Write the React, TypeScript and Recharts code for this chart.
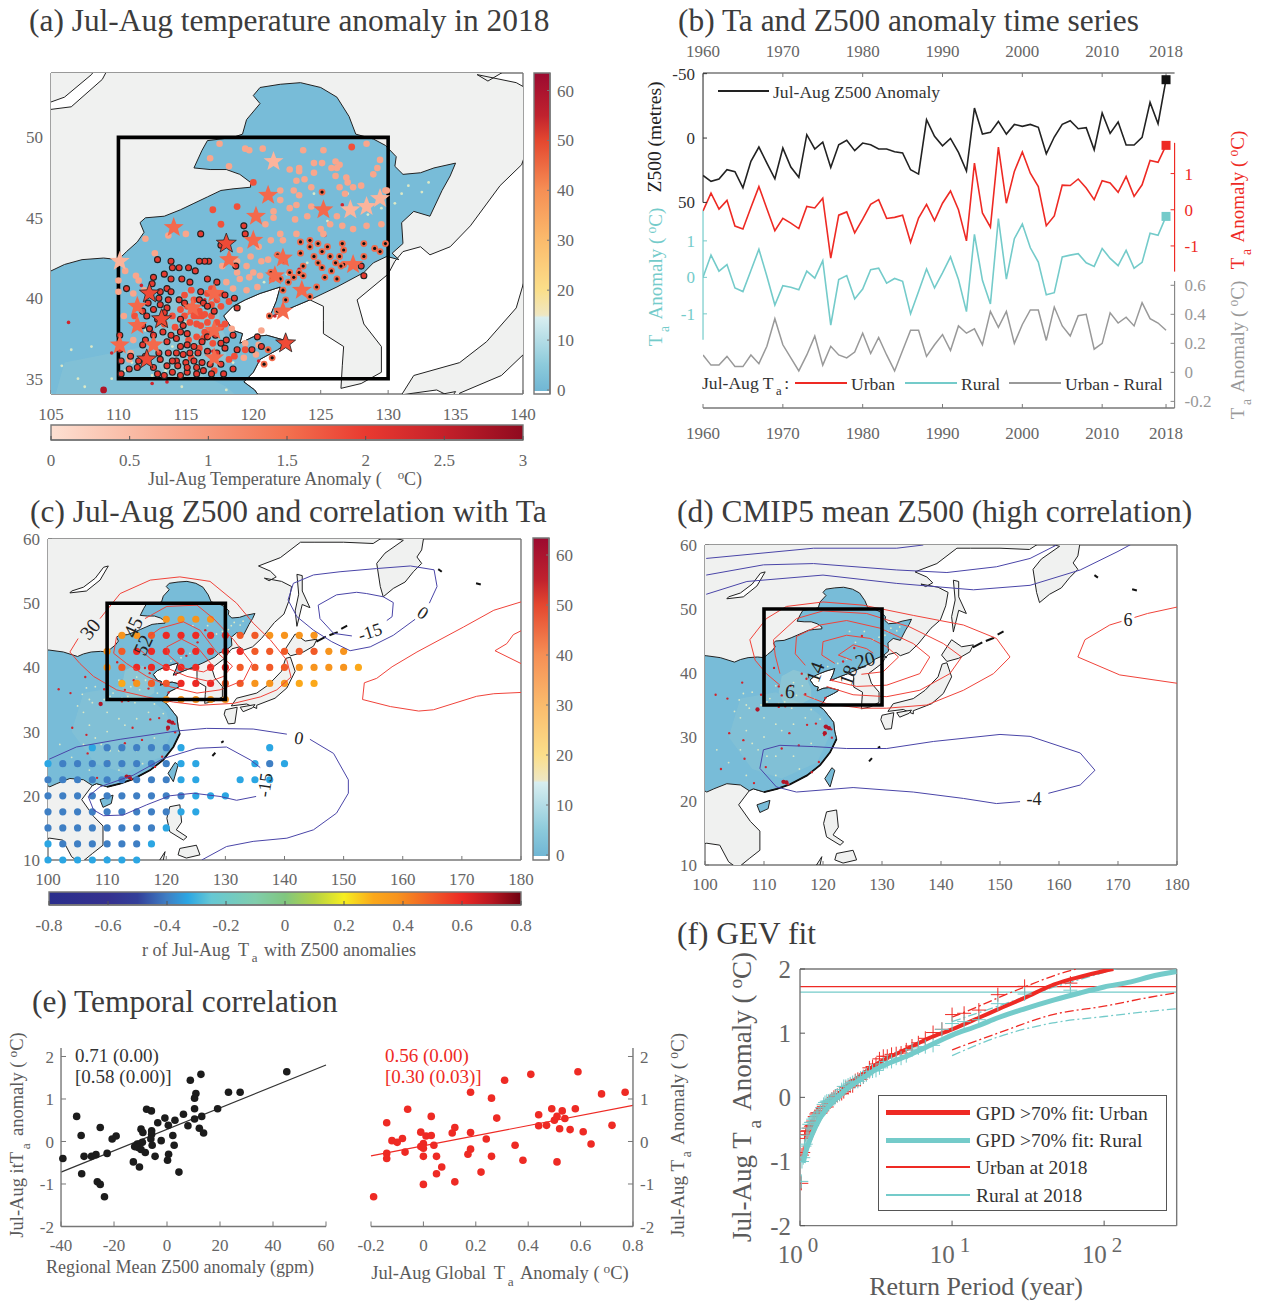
import React from "react";
import {
  ComposedChart,
  Line,
  ReferenceArea,
  ReferenceLine,
  Scatter,
  ScatterChart,
  XAxis,
  YAxis,
} from "recharts";

const serif = '"Liberation Serif", "Times New Roman", serif';
const RED = "#ee2a24";
const TEAL = "#74cbca";
const GRAY = "#999999";
const BLUE_LINE = "#4a45a8";
const LAND = "#f0f1f0";
const CHINA = "#78bcd8";
const THIN = 0.01;

// ---- time series (panel b)
const years = [
  1960, 1961, 1962, 1963, 1964, 1965, 1966, 1967, 1968, 1969, 1970, 1971, 1972, 1973, 1974, 1975, 1976, 1977, 1978,
  1979, 1980, 1981, 1982, 1983, 1984, 1985, 1986, 1987, 1988, 1989, 1990, 1991, 1992, 1993, 1994, 1995, 1996, 1997,
  1998, 1999, 2000, 2001, 2002, 2003, 2004, 2005, 2006, 2007, 2008, 2009, 2010, 2011, 2012, 2013, 2014, 2015, 2016,
  2017, 2018,
];
const z500 = [
  29, 33.6, 31.8, 24.6, 26.1, 38.6, 18.1, 7, 19.4, 31.6, 7.8, 22.5, 30.5, -2.6, 8.5, 3.1, 22.8, 5.2, 1.8, 9.8, 3.9,
  5.2, 8.5, 8.5, 10.6, 11.6, 24.6, 28, -14.2, -1.3, 6, 0.3, 11.1, 25.6, -23.3, -3.1, -4.4, -12.9, -3.1, -10.6, -9.1,
  -10.6, -8.3, 12.2, -0.8, -10.6, -13.5, -7.2, -8, 9.1, -19.4, -3.6, -12.4, 5.4, 5.4, -0.5, -27.7, -11.1, -45.3,
];
const urbanTa = [
  -0.03, 0.46, 0.02, 0.26, -0.45, -0.53, 0.06, 0.64, 0.03, -0.58, -0.24, -0.37, -0.52, 0.09, 0.05, 0.32, -1.34,
  -0.15, -0.06, -0.64, -0.26, 0.15, 0.28, -0.24, -0.21, -0.15, -0.9, -0.23, 0.15, -0.3, 0.18, 0.52, 0, -0.86, 1.29,
  -0.09, -0.48, 1.73, 0.18, 1.06, 1.6, 1.01, 0.64, -0.44, -0.17, 0.68, 0.67, 0.85, 0.6, 0.28, 0.8, 0.74, 0.48, 0.92,
  0.37, 0.69, 1.36, 1.31, 1.78,
];
const ruralTa = [
  0, 0.61, 0.17, 0.35, -0.29, -0.39, 0.19, 0.77, 0.03, -0.76, -0.23, -0.27, -0.34, 0.17, -0.02, 0.46, -1.31, -0.06,
  0.05, -0.59, -0.32, 0.21, 0.25, -0.16, -0.03, -0.11, -1, -0.39, 0.23, -0.29, 0.12, 0.56, -0.06, -0.94, 1.18, -0.08,
  -0.73, 1.61, -0.05, 1.06, 1.46, 0.81, 0.42, -0.48, -0.42, 0.56, 0.61, 0.65, 0.4, 0.3, 0.79, 0.52, 0.32, 0.74, 0.25,
  0.41, 1.21, 1.15, 1.67,
];
const diffTa = [
  0.12, 0.05, 0.05, 0.11, 0.04, 0.04, 0.12, 0.06, 0.18, 0.37, 0.19, 0.1, 0.01, 0.12, 0.25, 0.05, 0.18, 0.12, 0.1,
  0.14, 0.27, 0.13, 0.24, 0.12, 0.01, 0.15, 0.29, 0.29, 0.11, 0.19, 0.26, 0.15, 0.32, 0.27, 0.3, 0.19, 0.42, 0.31,
  0.42, 0.2, 0.33, 0.43, 0.43, 0.22, 0.45, 0.32, 0.25, 0.39, 0.4, 0.16, 0.2, 0.41, 0.34, 0.38, 0.32, 0.48, 0.37, 0.34,
  0.29,
];
const seriesTable = years.map((year, i) => ({ year, z: z500[i], u: urbanTa[i], r: ruralTa[i], d: diffTa[i] }));
const decadeTicks = [1960, 1970, 1980, 1990, 2000, 2010, 2018];

// ---- scatter (panel e)
const z500Scatter = [
  [45.2, 1.64], [12.8, 1.58], [8.8, 1.44], [23.2, 1.16], [27.6, 1.16], [10.9, 1.13], [10.4, 1.02], [19.1, 0.77],
  [10.4, 0.77], [-7.7, 0.76], [-5.9, 0.72], [6.2, 0.64], [-34.1, 0.59], [13.1, 0.59], [-0.8, 0.55], [3, 0.5],
  [10.4, 0.53], [-3.5, 0.44], [7.9, 0.37], [0.5, 0.38], [-25.2, 0.33], [-9.8, 0.29], [12.2, 0.31], [-9.1, 0.21],
  [13.8, 0.2], [-5.8, 0.25], [-5.8, 0.17], [-32.4, 0.14], [-19.2, 0.13], [-20.7, 0.06], [2.2, 0.14], [-6.1, 0.06],
  [-2.2, 0.02], [-9.3, -0.02], [-11.2, -0.06], [-12.2, -0.12], [-10.9, -0.14], [-5.6, -0.09], [2.7, -0.09],
  [-9.8, -0.19], [-8.2, -0.26], [-22.6, -0.28], [-26.8, -0.31], [-28.5, -0.35], [-31.3, -0.35], [-39.3, -0.4],
  [-4.5, -0.35], [0.6, -0.3], [0.2, -0.44], [-12.7, -0.48], [-10.4, -0.6], [4.5, -0.72], [-32.2, -0.76],
  [-26.3, -0.95], [-25.2, -1.01], [-23.6, -1.3],
];
const globalScatter = [
  [0.59, 1.64], [0.41, 1.58], [0.31, 1.44], [0.18, 1.16], [0.77, 1.16], [0.68, 1.12], [0.26, 1.02], [-0.06, 0.76],
  [0.49, 0.77], [0.58, 0.77], [0.53, 0.72], [0.44, 0.63], [0.03, 0.59], [0.51, 0.59], [0.54, 0.54], [0.28, 0.55],
  [0.5, 0.5], [-0.14, 0.44], [0.72, 0.38], [0.44, 0.37], [0.47, 0.38], [0.12, 0.33], [0.52, 0.3], [0.56, 0.28],
  [0.61, 0.23], [0.11, 0.2], [0.18, 0.21], [-0.01, 0.22], [0.01, 0.13], [0.03, 0.14], [-0.08, 0.07], [0.24, 0.06],
  [-0.12, 0.02], [-0.1, -0.02], [0, -0.05], [0.64, -0.06], [0.04, -0.09], [-0.01, -0.12], [0.35, -0.09], [0, -0.16],
  [0.18, -0.18], [-0.07, -0.25], [-0.14, -0.28], [0.17, -0.3], [0, -0.35], [0.05, -0.35], [0.26, -0.35], [-0.14, -0.4],
  [0.38, -0.44], [0.51, -0.48], [0.07, -0.6], [0.22, -0.72], [0.05, -0.76], [0.12, -0.95], [0, -1.01], [-0.19, -1.3],
];

// ---- GEV fit (panel f)
const returnPeriods = [
  60, 30, 20, 15, 12, 10, 8.57, 7.5, 6.67, 6, 5.45, 5, 4.62, 4.29, 4, 3.75, 3.53, 3.33, 3.16, 3, 2.86, 2.73, 2.61, 2.5,
  2.4, 2.31, 2.22, 2.14, 2.07, 2, 1.94, 1.88, 1.82, 1.76, 1.71, 1.67, 1.62, 1.58, 1.54, 1.5, 1.46, 1.43, 1.4, 1.36,
  1.33, 1.3, 1.28, 1.25, 1.22, 1.2, 1.18, 1.15, 1.13, 1.11, 1.09, 1.07, 1.05, 1.03, 1.02,
];
const urbanSorted = [
  1.78, 1.73, 1.6, 1.36, 1.31, 1.29, 1.06, 1.01, 0.92, 0.85, 0.8, 0.74, 0.69, 0.68, 0.67, 0.64, 0.64, 0.6, 0.52, 0.48,
  0.46, 0.37, 0.32, 0.28, 0.28, 0.26, 0.18, 0.18, 0.15, 0.15, 0.09, 0.06, 0.05, 0.03, 0.02, 0, -0.03, -0.06, -0.09,
  -0.15, -0.15, -0.17, -0.21, -0.23, -0.24, -0.24, -0.26, -0.3, -0.37, -0.44, -0.45, -0.48, -0.52, -0.53, -0.58, -0.64,
  -0.86, -0.9, -1.34,
];
const ruralSorted = [
  1.67, 1.61, 1.46, 1.21, 1.18, 1.15, 1.06, 0.81, 0.79, 0.77, 0.74, 0.65, 0.61, 0.61, 0.56, 0.56, 0.52, 0.46, 0.42,
  0.41, 0.4, 0.35, 0.32, 0.3, 0.25, 0.25, 0.23, 0.21, 0.19, 0.17, 0.17, 0.12, 0.05, 0.03, 0, -0.02, -0.03, -0.05,
  -0.06, -0.06, -0.08, -0.11, -0.16, -0.23, -0.27, -0.29, -0.29, -0.32, -0.34, -0.39, -0.39, -0.42, -0.48, -0.59,
  -0.73, -0.76, -0.94, -1, -1.31,
];
const urbanFit = [
  [1.05, -1], [1.1, -0.82], [1.2, -0.58], [1.35, -0.33], [1.6, -0.08], [2, 0.16], [2.5, 0.34], [3.3, 0.54],
  [5, 0.75], [7, 0.92], [10, 1.06], [15, 1.24], [20, 1.37], [30, 1.55], [47, 1.76], [70, 1.88], [100, 1.97], [115, 2],
];
const ruralFit = [
  [1.05, -1.02], [1.1, -0.82], [1.2, -0.58], [1.35, -0.33], [1.6, -0.1], [2, 0.12], [2.5, 0.28], [3.3, 0.46],
  [5, 0.64], [7, 0.8], [10, 0.97], [15, 1.12], [20, 1.24], [30, 1.38], [47, 1.52], [70, 1.63], [100, 1.72], [150, 1.8],
  [200, 1.88], [300, 1.96],
];
const urbanUpper = [[10, 1.25], [15, 1.42], [20, 1.55], [30, 1.72], [50, 1.92], [70, 2.02]];
const urbanLower = [[10, 0.74], [20, 1], [46, 1.29], [100, 1.42], [200, 1.56], [300, 1.63]];
const ruralUpper = [[10, 1.18], [20, 1.42], [47, 1.72], [80, 1.88], [125, 2.02]];
const ruralLower = [[10, 0.65], [20, 0.94], [46, 1.16], [100, 1.26], [200, 1.34], [300, 1.38]];

// ---- geography, [lon, lat]
const chinaNorth = [
  [95, 43], [100.2, 42.7], [102.6, 42.4], [105, 41.7], [106, 42.1], [107.3, 42.4], [108.9, 42.5], [110, 42.4],
  [110.6, 42.9], [111.4, 43.5], [111.9, 44.1], [111.6, 44.7], [112, 45], [113.4, 45.1], [114.6, 45.5], [115.6, 45.9],
  [116.6, 46.3], [117.6, 46.7], [118.5, 46.8], [119.8, 46.9], [119.8, 47.2], [119, 47.7], [118, 48], [116.8, 48],
  [115.6, 48.1], [116.2, 49.2], [116.6, 49.8], [117.6, 49.9], [118.5, 50], [119.2, 50.2], [119.5, 51.1], [120.5, 52.1],
  [120, 52.6], [120.5, 53.1], [122, 53.3], [123.5, 53.4], [125, 53.1], [126.2, 52.5], [127.1, 51.3], [127.6, 50.2],
  [128.9, 49.9], [129.8, 49.5], [130.6, 48.8], [130.5, 48.2], [131.1, 47.7], [132.4, 47.8], [133.4, 48.1], [135, 48.4],
  [134.6, 47.6], [134, 46.7], [133.1, 45.1], [131.9, 45.4], [131, 44.7], [131.1, 43.4], [130.3, 42.8], [130.8, 42.4],
  [129.9, 42.6], [128.9, 42.2], [128.2, 41.6], [126.2, 40.7],
];
const chinaCoast = [
  [124.2, 39.9], [122.5, 39.3], [121.2, 38.8], [121.7, 39.8], [122, 40.7], [120.5, 40.3], [119.4, 39.9], [118.5, 39.5],
  [117.8, 38.9], [118.5, 38], [119.2, 37.8], [119, 37.2], [120, 37.6], [121, 37.7], [122.7, 37.3], [121.8, 36.8],
  [120.5, 36.2], [120, 35.4], [119.3, 34.8], [120.1, 34.3], [121.8, 32.3], [122, 30.8], [122.3, 29.7], [121.2, 27.6],
  [119.5, 25.6], [117.3, 24], [114.4, 22.6], [112.2, 21.9], [110, 21.4], [108.2, 21.9], [107.5, 21.6],
];
const southCoastBold = [[122.3, 29.7], [121.2, 27.6], [119.5, 25.6], [117.3, 24], [114.4, 22.6], [112.2, 21.9], [110, 21.4]];
const chinaSouth = [[106, 22.5], [103.7, 22.7], [101.5, 21.9], [100.3, 21.4], [97, 23], [95, 25]];
const russiaCoast = [
  [180, 62], [164, 62], [163.5, 60], [163.2, 58.3], [162.4, 57.2], [163.2, 56.2], [161.8, 54.9], [160.4, 53.3],
  [158.4, 52.3], [156.7, 51], [156.2, 52.6], [155.6, 56.2], [157, 57.8], [160.1, 59.8], [157, 60.5], [155, 59.3],
  [150, 59.5], [145, 59.5], [142.7, 59.5], [139.3, 57.1], [135.6, 55.8], [137.6, 55], [138.6, 54.1], [137.4, 53.5],
  [136.6, 53.9], [139.5, 53.4], [141.2, 52.6], [140.8, 50.5], [139.9, 48.3], [138.3, 47], [136.1, 44.5], [134.6, 43.2],
  [133.1, 42.7], [132.4, 43.2], [131.1, 42.9], [130.5, 42.3],
];
const koreaCoast = [
  [130, 41.5], [127.7, 39.9], [128.2, 38.4], [129.5, 37], [129.5, 35.4], [128, 34.7], [126.5, 34.4], [126.6, 35.8],
  [126.7, 37], [125.2, 37.8], [125.2, 38.6], [125.2, 39.5],
];
const indochina = [
  [105.7, 19.4], [107.7, 16.8], [109.3, 15.3], [109.3, 12.3], [107.5, 11], [105.5, 9.5], [104, 10.5], [102.5, 13.1],
  [100.3, 13.4], [99.5, 13.3], [90, 13], [90, 62],
];
const asiaLand = [...russiaCoast, ...koreaCoast, ...chinaCoast, ...indochina];
const chinaLand = [...chinaNorth, ...chinaCoast, ...chinaSouth];
const islandShapes = [
  [[140.1, 42.8], [141.8, 45.2], [143.5, 44.1], [145.5, 44.4], [144.9, 43.3], [143, 42.3], [141, 41.8]],
  [[141, 41.6], [141.8, 39.4], [140.4, 36.8], [138.4, 35.2], [135.3, 34.1], [135.3, 33.6], [133.6, 34.3], [131, 34],
    [131.9, 35.2], [135.3, 36], [137.3, 37.3], [139.5, 39.4], [140.2, 41.4]],
  [[130, 33.4], [132, 33.8], [131.6, 31.3], [130.5, 31.2], [129.8, 32.7]],
  [[132.5, 33.8], [135, 34.2], [134.6, 33.7], [133, 33.1]],
  [[142.1, 54.5], [143, 54.3], [143, 51.9], [144.3, 49.3], [143, 49.8], [142.1, 46.4], [141.8, 48.8], [142.4, 51.4]],
  [[121.5, 25.2], [122, 24.8], [121.2, 22.2], [120.3, 23.5]],
  [[108.8, 19.4], [111, 20.1], [110.7, 18.8], [109.3, 18.2]],
  [[120.6, 18.3], [122.3, 18.6], [122.6, 15.9], [121.7, 14.7], [123.5, 13.6], [122.9, 13.1], [120.6, 14.4], [120.1, 16.5]],
  [[122.3, 11.8], [125.1, 12.3], [125.7, 10.8], [123.4, 10.3], [122, 10.8]],
  [[118.9, 10], [119.8, 11.3], [119.5, 10]],
];
const baikal = [[103.7, 51.6], [106.5, 51.9], [108.8, 53.6], [110.2, 55.8], [109.4, 55.6], [108, 53.9], [106, 52.5], [104, 51.9]];
const tinyIslands = [
  [[145.4, 44], [147, 44.8]], [[147.6, 45], [149, 45.5]], [[149.6, 46], [150.6, 46.5]],
  [[127.8, 26.2], [128.3, 26.7]], [[129.3, 28.3], [129.7, 28.5]], [[166, 55.3], [166.6, 54.9]], [[172.4, 53.1], [173.2, 52.9]],
];
const regionCorners = [[110, 35], [130, 35], [130, 50], [110, 50]];

// city hot spots and pale speckle on the China raster
const hotSpots = [
  [116.4, 39.9], [117.2, 39.1], [114.5, 38], [113, 36.5], [112.5, 37.9], [108.9, 34.3], [104.1, 30.6], [106.5, 29.5],
  [114.3, 30.6], [113, 28.2], [115.9, 28.7], [117.3, 31.9], [118.8, 32.1], [120.3, 31.6], [120.9, 31.4], [121.4, 31.2],
  [120.2, 30.3], [121.5, 29.9], [119.3, 26.1], [118.1, 24.5], [113.3, 23.1], [113.7, 22.8], [114.1, 22.6], [110.3, 25.3],
  [108.3, 22.8], [106.7, 26.6], [102.7, 25], [113.6, 34.8], [117, 36.7], [120.4, 36.1], [123.4, 41.8], [121.6, 38.9],
  [125.3, 43.9], [126.6, 45.8], [111.7, 40.8], [106.3, 38.5], [103.8, 36], [101.8, 36.6], [109.5, 36.6], [112.5, 34.7],
];
const hotBlobs = [[121, 31.4], [120.5, 31.6], [120.3, 30.6], [113.3, 23], [113.8, 22.9], [108.9, 34.3]];
const paleSpecks = [
  [115, 38.5], [114, 37], [115.5, 36.5], [116.5, 38], [113.5, 35.5], [116, 35], [117.5, 35], [118.5, 36], [119, 39.5],
  [120.8, 41], [122.5, 41.5], [124, 42.2], [125.5, 44.8], [127, 46.5], [128.5, 45.2], [131, 46.5], [132.5, 46.6], [130.5, 45.9],
  [133, 47.2], [131.5, 47], [129.5, 45.6], [124.5, 46.5], [112, 38], [110.5, 35.5], [108, 37], [107, 35], [106, 33], [110, 33],
  [112, 32], [115, 32], [117, 33], [113, 31], [110, 30], [107, 31], [105, 34], [109, 28], [112, 27], [115, 27], [118, 29],
  [116, 25], [112, 24], [107, 24], [104, 26], [102, 28], [111, 36], [109.5, 35], [106.5, 36.8], [112.5, 35.2], [114.7, 34.5],
  [107.5, 34.5], [105.8, 35.8], [119.5, 32.8], [118, 34.3], [108, 29], [110.5, 27], [106, 28],
];
const plainPatch = [[113, 39.5], [115, 40.5], [117.5, 39.8], [117.5, 38.5], [118, 37.5], [118, 36], [116, 35], [113.5, 35], [112.5, 37]];
const eastPatch = [[106, 36], [112, 37], [118, 34.5], [120, 33], [121, 30], [119, 26], [113, 23.5], [108, 25], [104, 30]];

// ---- stations (panel a), [lon, lat]
const plainStations = [
  [117.5, 49.6], [116.8, 48.7], [118.2, 48.2], [119.4, 49.3], [119.7, 49.2], [120.7, 49.3], [123.7, 49.2], [125.2, 49.2],
  [128.4, 49.6], [129.4, 48.6], [129.2, 48.1], [128.9, 47.7], [129.9, 46.7], [124.5, 48.4], [125.1, 48.4], [122.7, 48],
  [123.4, 48.1], [123.4, 47.9], [124.5, 47.8], [126.1, 48.5], [126.4, 48.3], [126.2, 48.1], [125.8, 48.1], [126.1, 47.6],
  [126.9, 47.5], [127, 47.2], [127.4, 46.9], [128, 47], [126.4, 46.9], [126.8, 46.5], [123.2, 47.3], [123.8, 47.4],
  [124.3, 46.9], [123, 46.7], [122, 46.7], [123.4, 46.4], [122, 46.1], [123.2, 45.8], [122.7, 45.6], [121.5, 45.4],
  [121.5, 45], [120.9, 44.6], [115, 44], [113.7, 43.9], [112, 43.7], [123.1, 44.9], [124, 45.1], [124.3, 45.7],
  [126.2, 45.1], [125.7, 44.6], [125, 44.3], [125.2, 44], [126.6, 44.5], [127.4, 44.3], [128.4, 44.5], [129.5, 44.6],
  [129.8, 46.7], [122, 44], [123.2, 44], [121.3, 43.6], [122.2, 43.6], [119, 43], [120.4, 43.2], [119.8, 42.6],
  [121.1, 42.4], [120.6, 42.3], [118.8, 42.3], [117.7, 42], [119.5, 42], [120, 41.6], [118.8, 41.6], [118, 41],
  [119, 41.2], [119.7, 41.3], [120.5, 41.4], [118.5, 40.6], [119.5, 40.5], [120.3, 40.7], [112.7, 42.8], [110.5, 41.7],
  [110, 41.1], [110, 40.4], [111.3, 41.4], [111.5, 41.1], [111.9, 40.5], [111.1, 40.3], [110.4, 38.9], [111.1, 37.4],
  [110.9, 36.6], [110.8, 36.2], [118.4, 38.1], [119.4, 37.2], [120.4, 37.1], [120.6, 38], [120.2, 36.5], [119.3, 36.3],
];
const redStations = [
  [127.3, 49.4], [118.8, 45.7], [117, 45.5], [117.6, 44.6], [120, 47.2], [115.6, 38.9], [116.1, 38.3], [116.6, 38.5],
  [115.8, 37.6], [115.3, 38.5], [116.2, 38.9], [116.9, 38.9], [117.3, 38.5], [117.6, 39.5], [117.6, 40.3], [116.6, 40.3],
  [117.3, 39.9], [115.6, 39.9], [115.1, 39.5], [114.6, 39.3], [114, 38.9], [114.2, 38.2], [114.9, 38.9], [115.2, 37.4],
  [115.9, 38.9], [116.4, 37.9], [116.9, 37.9], [117.6, 38.2], [116, 39.2], [116.9, 39.6], [115.5, 39.2], [114.9, 40.2],
  [115.4, 40.5], [116.9, 40.6], [118.2, 39.8], [117.1, 35.5], [118.2, 36.2], [118.6, 36.4], [119.4, 36.8], [116.4, 39],
  [115.8, 38.4], [116.3, 37.5], [117, 37.2], [116, 36.9], [115.4, 36.3], [117.9, 38.4], [113.4, 38.4], [111.2, 38.9],
];
const ringedStations = [
  [116.1, 44], [117.6, 43.3], [119.3, 44.5], [119.4, 44], [116.7, 42.3], [116.4, 42.3], [116, 42.3], [112.9, 42.4],
  [113.9, 42.3], [114, 41.9], [114.5, 41.9], [115.2, 41.9], [115.7, 41.7], [118.7, 42], [112.6, 41.3], [112.5, 40.9],
  [110.6, 40.6], [113.4, 41.5], [113.9, 41.2], [114.7, 41.2], [115.3, 41], [116.6, 41.2], [117.3, 41], [113.6, 40.6],
  [113.9, 40.4], [113.1, 40.4], [114.5, 39.9], [113.7, 39.9], [113.6, 39.4], [113.1, 39.6], [116.1, 40.4], [116, 39.9],
  [116.3, 39.7], [116.6, 39.5], [117.1, 39.2], [117.9, 40.2], [118.6, 40], [118.8, 39.4], [112.6, 39.3], [112.1, 38.9],
  [111.8, 38.3], [112.9, 38.7], [113.4, 39.1], [112.6, 37.7], [110.1, 37.7], [112, 37.4], [111.8, 37.1], [110.9, 36.4],
  [113.6, 37.3], [113, 36.6], [113.7, 36.6], [114.6, 38.7], [114.8, 38.3], [115.1, 37.8], [114.6, 37.9], [110.1, 36.8],
  [110.2, 36.1], [110.2, 35.3], [110.8, 35.6], [111.4, 35.7], [111.5, 36.1], [112, 36.4], [113.1, 36.2], [112.6, 35.7],
  [112.9, 35.3], [113.4, 35.2], [114, 35.4], [114.6, 35.2], [115.1, 35.4], [115.8, 35.3], [116.3, 35.5], [116.9, 35.3],
  [117.8, 35.3], [118.5, 35.6], [114.6, 37], [115.1, 37.1], [115.6, 37], [116.2, 37.3], [116.6, 37.6], [117.2, 37.7],
  [117.6, 37.2], [118, 37.4], [118.5, 37.7], [114.3, 36.6], [114.8, 36.5], [115.3, 36.6], [115.9, 36.6], [116.6, 36.7],
  [117.3, 36.6], [117.9, 36.9], [114.3, 36.1], [115, 36], [115.6, 36.1], [116.2, 36], [116.8, 35.9], [117.6, 35.9],
  [114.4, 35.8], [115.1, 35.7], [115.8, 35.7], [118.8, 36.8], [119.9, 36.8], [120.6, 37], [120.3, 37.6], [128, 42], [128.2, 41.4],
  [113.9, 37.7], [114.3, 37.5], [113.3, 37.9], [112.2, 39.7], [114, 36.1], [113.6, 35.8], [112.3, 38.1], [111.8, 39.2], [113, 40], [114.9, 39.7],
];
const blackCoreStations = [
  [123.5, 43.5], [124.2, 43.6], [124.8, 43.4], [124.2, 43.2], [125.5, 43.2], [126.7, 43], [128.2, 43.4], [129, 43.1],
  [129.8, 43.4], [129.4, 42.9], [128.2, 42.6], [125.1, 42.9], [124.5, 42.6], [123.5, 42.8], [121.8, 42.7], [122.3, 42.3],
  [125.7, 42.6], [126.1, 42.2], [124.8, 42.2], [126.4, 42.6], [126.7, 42.1], [125.8, 41.7], [125.1, 41.9], [123.7, 42],
  [123.4, 41.6], [123, 41.3], [123.7, 41.4], [122.7, 41.6], [121.3, 41.6], [122, 41.2], [122.6, 41], [121.4, 41.2],
  [124.7, 40.7], [125.3, 41.3], [126.2, 41.2], [123.5, 40.5], [124.2, 40.1], [122.2, 40.5], [122.4, 39.9], [121.8, 39.2],
  [121.2, 38.9], [125.1, 46.6], [126.6, 43.4], [126.5, 42], [120.8, 35.9], [121.4, 36.3], [121.1, 36.8],
];
const paleStars = [[121.5, 48.5], [110.1, 42.3], [127.2, 45.5], [128.4, 45.7], [129.4, 46.2]];
const midStars = [
  [121.1, 46.4], [120.2, 45.1], [114.1, 44.4], [120, 43.6], [118.2, 42.4], [125.2, 45.5], [122.2, 42.5], [127.4, 42.1],
  [121.6, 41.4], [123.6, 40.5], [122.2, 39.2], [111.4, 39.5], [111.4, 38.3], [110.1, 37.1], [112.6, 37.1], [117.1, 40.3],
  [115.5, 39.4], [117.1, 38], [117.1, 36.3],
];
const ringedStars = [[118, 43.4], [122.4, 37.2], [112.3, 40.3], [113.2, 38.7], [112.1, 36.2]];

// ---- contours (panels c, d), [lon, lat]
const cRed = [
  [[108.8, 47.6], [112.2, 51.5], [117.3, 53.6], [122.3, 54.1], [127.4, 53.4], [131.9, 50], [134.7, 46.9], [137.6, 44.3],
    [140.4, 41.1], [141.1, 38.5], [138.7, 36.5], [135.9, 35.4], [131.4, 34.4], [125.7, 34.1], [121.2, 34.6], [116.7, 35.4],
    [111.6, 36.5], [107.7, 38.6], [105.4, 40.6], [103.7, 42.4], [105.1, 44.5]],
  [[116.4, 47.6], [120.1, 49.5], [125.2, 49.7], [128, 47.6], [131.4, 44.3], [134.5, 40.6], [133.1, 38], [129.1, 36.5],
    [125.2, 36], [120.6, 37], [116.7, 38.6], [113.3, 40.6], [111.1, 42.2], [111.6, 44.8]],
  [[117, 44.8], [119, 46.1], [122.9, 47.1], [125.7, 45.8], [128.5, 42.4], [131.2, 40.2], [129.7, 38.6], [127.4, 37.8],
    [123.5, 38.6], [120.1, 39.9], [117.3, 41.4], [115.6, 42.7]],
  [[120.1, 43.2], [122.6, 44.4], [125.2, 43.2], [128, 40.1], [126.3, 39.3], [122.9, 39.9], [120.4, 41.9], [120.1, 43.2]],
  [[180, 50.2], [175.4, 48.9], [170.3, 46.3], [162.4, 42.4], [158.2, 40.1], [155.6, 38.3], [153.5, 37.6], [153.2, 35],
    [157.9, 33.9], [162.7, 33.2], [165.2, 33.4], [172.5, 35.5], [175.4, 35.9], [180, 36.1]],
  [[180, 45.7], [178.7, 45.1], [177.6, 43.7], [175.6, 42.6], [180, 40.6]],
];
const cBlue = [
  [[164.5, 50], [165.8, 52.6], [165.3, 55.2], [161.3, 55.8], [155.6, 55.4], [149.4, 54.9], [144.9, 54.4], [141.5, 53.1],
    [140.6, 50.5], [142.1, 47.9], [144.9, 45.8], [148, 44], [151.1, 42.6], [154.5, 43.2], [158.4, 45], [162.1, 47.5]],
  [[151.4, 44.9], [148.3, 45.3], [146, 47.6], [145.7, 49.7], [148.8, 51.3], [152.2, 51.7], [153.9, 51.5], [156.7, 51],
    [158.4, 50.1], [158.2, 47.9], [157.3, 47.3]],
  [[100.2, 25.7], [104.8, 27.6], [112.2, 28.8], [121.8, 30.1], [126.8, 30.5], [134.7, 30.4], [140.4, 29.6]],
  [[144.3, 28.8], [148.3, 26.6], [150.8, 22.5], [150.8, 20.4], [148.8, 17.3], [144.9, 14.7], [140.4, 13.4], [134.7, 12.9],
    [130.2, 12.1], [126, 10]],
  [[135.2, 19.9], [131.9, 19.3], [129.1, 19.9], [124.6, 20.4], [120.6, 20], [116.7, 18.6], [112.7, 17], [109.4, 16.9],
    [107.7, 17.8], [106.8, 19.9], [108.8, 21.4], [114.4, 23.2], [119.5, 25.8], [125.2, 27.4], [130.2, 27.6], [134.2, 25.6],
    [135.9, 24.4]],
];
const dRed = [
  [[112.7, 38.1], [110.4, 39.9], [108.5, 42], [107.6, 45.2], [110.4, 48.5], [113.8, 50.4], [120, 51.1], [126.8, 50.6],
    [135.3, 49], [143.8, 47.5], [149.4, 45.4], [151.7, 42.5], [148.9, 39.9], [143.8, 37.3], [137.6, 35], [130.8, 34.5],
    [126.6, 34.5], [120.6, 35.2], [116.7, 36.6]],
  [[112.7, 39.9], [111.9, 42.8], [111.6, 45.2], [115.5, 48.5], [120, 49.7], [127.4, 49.3], [134.7, 47.2], [140.4, 44.6],
    [143.5, 42.5], [141.5, 39.9], [136.4, 37.3], [130.8, 36.3], [125.1, 36.6], [120.6, 37.9]],
  [[117, 41.2], [115.3, 43], [115.5, 45.7], [119.5, 47.5], [124, 48.2], [129.7, 47], [135.3, 44.6], [138.1, 42.5],
    [136.4, 39.9], [130.8, 38.1], [125.7, 37.9], [121.2, 38.9]],
  [[122, 41.5], [119.8, 42.8], [120, 44.9], [124, 45.9], [128, 45.4], [130.8, 44.1], [132.8, 42.5], [130.2, 40.2], [126.5, 39.8]],
  [[124.9, 42], [122.6, 42.8], [125.1, 44.4], [127.4, 43.8], [128.5, 43.1]],
  [[180, 50.3], [175, 49.3], [168.6, 47.5], [164.4, 45.2], [163.2, 42.5], [170.3, 39.7], [180, 38.4]],
];
const dBlue = [
  [[100.2, 57.9], [118.4, 59.5], [132.5, 59.5], [137, 60]],
  [[100.2, 55.3], [109.9, 56.9], [118.4, 57.1], [132.5, 56.1], [141, 55.7], [149.4, 56.6], [155.1, 57.9], [159.6, 60]],
  [[100.2, 52.3], [107.1, 54.3], [120, 55.3], [132.5, 54], [145.5, 53], [155.1, 53.7], [163.6, 56.1], [170, 59], [173, 60.5]],
  [[109.3, 25.1], [109.9, 28], [112.7, 28.7], [118.4, 28.5], [124, 28.2], [130.8, 28.2], [138.7, 29.3], [150, 30.4],
    [155.1, 30.1], [163.6, 27.5], [166.1, 24.8], [163.6, 22.5], [158.2, 21.2]],
  [[153.4, 19.9], [149.4, 19.6], [143.8, 20.4], [135.3, 21.4], [125.1, 22.1], [115.5, 21.4], [112.1, 22.2], [109.3, 25.1]],
];

// ---- correlation dots (panel c)
const dotRows = [
  { lat: 47.5, lons: [120, 122.5, 125, 127.5], r: [0.38, 0.38, 0.38, 0.38] },
  { lat: 45, lons: [112.5, 115, 117.5, 120, 122.5, 125, 127.5, 130, 132.5, 135, 137.5, 140, 142.5, 145],
    r: [0.38, 0.38, 0.5, 0.6, 0.6, 0.6, 0.6, 0.6, 0.5, 0.5, 0.4, 0.4, 0.4, 0.38] },
  { lat: 42.5, lons: [110, 112.5, 115, 117.5, 120, 122.5, 125, 127.5, 130, 132.5, 135, 137.5, 140, 142.5, 145, 147.5, 150],
    r: [0.45, 0.5, 0.6, 0.6, 0.6, 0.68, 0.68, 0.6, 0.6, 0.6, 0.5, 0.5, 0.5, 0.5, 0.5, 0.4, 0.4] },
  { lat: 40, lons: [110, 112.5, 115, 117.5, 120, 122.5, 125, 127.5, 130, 132.5, 135, 137.5, 140, 142.5, 145, 147.5, 150, 152.5],
    r: [0.42, 0.5, 0.6, 0.6, 0.6, 0.68, 0.6, 0.6, 0.6, 0.5, 0.5, 0.5, 0.5, 0.4, 0.4, 0.4, 0.38, 0.36] },
  { lat: 37.5, lons: [112.5, 115, 117.5, 120, 122.5, 125, 127.5, 130, 132.5, 135, 137.5, 140, 142.5, 145],
    r: [0.36, 0.42, 0.5, 0.5, 0.6, 0.6, 0.6, 0.5, 0.5, 0.4, 0.4, 0.38, 0.36, 0.36] },
  { lat: 35, lons: [120, 122.5, 125, 127.5, 130], r: [0.38, 0.38, 0.38, 0.38, 0.38] },
  { lat: 27.5, lons: [107.5, 110, 112.5, 115, 117.5, 120, 122.5, 137.5], r: [-0.33, -0.4, -0.4, -0.4, -0.4, -0.4, -0.33, -0.33] },
  { lat: 25, lons: [100, 102.5, 105, 107.5, 110, 112.5, 115, 117.5, 120, 122.5, 125, 135, 137.5, 140],
    r: [-0.33, -0.4, -0.4, -0.4, -0.4, -0.4, -0.4, -0.4, -0.4, -0.33, -0.33, -0.33, -0.4, -0.33] },
  { lat: 22.5, lons: [100, 102.5, 105, 107.5, 110, 112.5, 115, 117.5, 120, 122.5, 125, 132.5, 135, 137.5],
    r: [-0.4, -0.4, -0.4, -0.4, -0.4, -0.4, -0.4, -0.4, -0.4, -0.33, -0.33, -0.33, -0.33, -0.33] },
  { lat: 20, lons: [100, 102.5, 105, 107.5, 110, 112.5, 115, 117.5, 120, 122.5, 125, 127.5, 130],
    r: [-0.4, -0.4, -0.4, -0.4, -0.4, -0.4, -0.4, -0.4, -0.4, -0.4, -0.33, -0.33, -0.33] },
  { lat: 17.5, lons: [100, 102.5, 105, 107.5, 110, 112.5, 115, 117.5, 120, 122.5, 125],
    r: [-0.4, -0.4, -0.4, -0.4, -0.4, -0.4, -0.4, -0.4, -0.4, -0.33, -0.33] },
  { lat: 15, lons: [100, 102.5, 105, 107.5, 110, 112.5, 115, 117.5, 120], r: [-0.4, -0.4, -0.4, -0.4, -0.4, -0.4, -0.4, -0.4, -0.33] },
  { lat: 12.5, lons: [100, 102.5, 105, 107.5, 110, 112.5, 115, 117.5], r: [-0.33, -0.4, -0.4, -0.4, -0.4, -0.4, -0.4, -0.33] },
  { lat: 10, lons: [100, 102.5, 105, 107.5, 110, 112.5, 115], r: [-0.33, -0.33, -0.33, -0.33, -0.33, -0.33, -0.33] },
];

// ---- colour bars
const tempStops: [number, string][] = [
  [-1, "#ffffff"], [-0.2, "#ffffff"], [-0.2, "#70b6d4"], [5, "#8ccadb"], [14.5, "#d8eef0"], [15, "#efe7c2"], [20, "#fbdf8a"],
  [30, "#fbbb6c"], [40, "#f68f55"], [50, "#e4472f"], [55, "#c0222e"], [63.4, "#9c0a30"],
];
const anomalyStops: [number, string][] = [[0, "#fde0d2"], [1, "#f6977a"], [1.5, "#f3714f"], [2, "#e93a30"], [2.5, "#c4202a"], [3, "#8f0a1f"]];
const rStops: [number, string][] = [
  [-0.8, "#2a2e8c"], [-0.6, "#35318f"], [-0.5, "#333f99"], [-0.4, "#3f7fc4"], [-0.33, "#2ba6e3"], [-0.25, "#66c8d4"],
  [-0.1, "#80cdac"], [0, "#80c67f"], [0.1, "#b5d243"], [0.2, "#f6ee20"], [0.3, "#fba81a"], [0.38, "#f7941d"], [0.5, "#f15a27"],
  [0.6, "#ec2a24"], [0.7, "#b81620"], [0.8, "#6e0010"],
];
const rColor = (r: number) => {
  let best = rStops[0][1];
  rStops.forEach(([v, c]) => {
    if (v <= r + 0.001) best = c;
  });
  return best;
};

const pts = (a: number[][]) => a.map(([lon, lat]) => ({ lon, lat }));
const none = () => <g />;
const closed = (fill: string, stroke: string, sw: number, opacity = 1) => (p: any) => (
  <polygon
    points={(p.points || []).map((q: any) => `${q.x},${q.y}`).join(" ")}
    fill={fill}
    fillOpacity={opacity}
    stroke={stroke}
    strokeWidth={sw}
    strokeLinejoin="miter"
  />
);
const dotShape = (r: number, fill: string, stroke = "none", sw = 0) => (p: any) => (
  <circle cx={p.cx} cy={p.cy} r={r} fill={fill} stroke={stroke} strokeWidth={sw} />
);
const starShape = (r: number, fill: string, stroke = "none", sw = 0) => (p: any) => {
  const corners: string[] = [];
  for (let i = 0; i < 10; i++) {
    const rad = i % 2 === 0 ? r : r * 0.42;
    const ang = -Math.PI / 2 + (i * Math.PI) / 5;
    corners.push(`${p.cx + rad * Math.cos(ang)},${p.cy + rad * Math.sin(ang)}`);
  }
  return <polygon points={corners.join(" ")} fill={fill} stroke={stroke} strokeWidth={sw} />;
};
const plusShape = (color: string) => (p: any) => (
  <path d={`M${p.cx - 7},${p.cy}H${p.cx + 7}M${p.cx},${p.cy - 7}V${p.cy + 7}`} stroke={color} strokeWidth={1} fill="none" />
);
const blackCore = (p: any) => (
  <g>
    <circle cx={p.cx} cy={p.cy} r={3.4} fill="#f26a4b" />
    <circle cx={p.cx} cy={p.cy} r={1.6} fill="#111" />
  </g>
);

function Txt({ x, y, size = 18, color = "#5a5a5a", rot = 0, left = false, bg = false, children }: any) {
  return (
    <div
      style={{
        position: "absolute",
        left: x,
        top: y,
        transform: `translate(${left ? "0" : "-50%"},-50%) rotate(${rot}deg)`,
        fontFamily: serif,
        fontSize: size,
        color,
        whiteSpace: "nowrap",
        lineHeight: 1,
        background: bg ? "#fff" : "none",
        padding: bg ? "0 2px" : 0,
      }}
    >
      {children}
    </div>
  );
}
const Sub = ({ children }: any) => (
  <span style={{ fontSize: "0.72em", position: "relative", top: "0.5em", margin: "0 0.2em" }}>{children}</span>
);
const Sup = ({ children }: any) => (
  <span style={{ fontSize: "0.72em", position: "relative", top: "-0.45em", marginLeft: "0.3em" }}>{children}</span>
);
const Swatch = ({ x, y, w, color, h = 1.6 }: any) => (
  <div style={{ position: "absolute", left: x, top: y - h / 2, width: w, height: h, background: color }} />
);

const axisLine = { stroke: "#777", strokeWidth: 1.4 };
const tickFont = (size = 17, fill = "#666") => ({ fontSize: size, fill, fontFamily: serif });

type Box = { l: number; t: number; r: number; b: number };
const frame = (b: Box, pad = 60) => ({
  width: b.r - b.l + pad * 2,
  height: b.b - b.t + pad * 2,
  margin: { left: pad, right: pad, top: pad, bottom: pad },
  style: { position: "absolute" as const, left: b.l - pad, top: b.t - pad },
});

function mapLayers(dotSize: number) {
  return [
    <Scatter key="land" data={pts(asiaLand)} shape={none} line={closed(LAND, "#222", 1)} isAnimationActive={false} />,
    <Scatter key="china" data={pts(chinaLand)} shape={none} line={closed(CHINA, "#222", 1)} isAnimationActive={false} />,
    <Scatter key="east" data={pts(eastPatch)} shape={none} line={closed("#bfe0cc", "none", 0, 0.13)} isAnimationActive={false} />,
    <Scatter key="patch" data={pts(plainPatch)} shape={none} line={closed("#bfe0cc", "none", 0, 0.28)} isAnimationActive={false} />,
    <Scatter key="bold" data={pts(southCoastBold)} shape={none} line={{ stroke: "#111", strokeWidth: 1.8 }} isAnimationActive={false} />,
    <Scatter key="baikal" data={pts(baikal)} shape={none} line={closed("#fff", "#222", 1)} isAnimationActive={false} />,
    ...islandShapes.map((s, i) => (
      <Scatter key={`isl${i}`} data={pts(s)} shape={none} line={closed(i === 5 || i === 6 ? CHINA : LAND, "#222", 1)} isAnimationActive={false} />
    )),
    ...tinyIslands.map((s, i) => (
      <Scatter key={`tiny${i}`} data={pts(s)} shape={none} line={{ stroke: "#111", strokeWidth: 2 }} isAnimationActive={false} />
    )),
    <Scatter key="speck" data={pts(paleSpecks)} shape={dotShape(dotSize, "#dbe8c6")} isAnimationActive={false} />,
    <Scatter key="hot" data={pts(hotSpots)} shape={dotShape(dotSize * 1.3, "#d0242c")} isAnimationActive={false} />,
    <Scatter key="blob" data={pts(hotBlobs)} shape={dotShape(dotSize * 2.4, "#b01528")} isAnimationActive={false} />,
  ];
}

function contourLayers(list: number[][][], color: string, prefix: string) {
  return list.map((s, i) => (
    <Scatter key={`${prefix}${i}`} data={pts(s)} shape={none} line={{ stroke: color, strokeWidth: 1 }} isAnimationActive={false} />
  ));
}

const regionLayer = (
  <Scatter data={pts(regionCorners)} shape={none} line={closed("none", "#000", 3.6)} isAnimationActive={false} />
);

function mapAxes(xDomain: number[], yDomain: number[], xTicks: number[], yTicks: number[], xMargin = 18) {
  const base = { axisLine, tickLine: { stroke: "#777" }, interval: 0 as const, type: "number" as const, allowDataOverflow: true };
  return [
    <XAxis key="x" dataKey="lon" domain={xDomain} ticks={xTicks} height={THIN} tickSize={-4} tickMargin={xMargin} tick={tickFont()} {...base} />,
    <XAxis key="xt" xAxisId="top" orientation="top" domain={xDomain} ticks={xTicks} height={THIN} tickSize={-4} tick={false} {...base} />,
    <YAxis key="y" dataKey="lat" domain={yDomain} ticks={yTicks} width={THIN} tickSize={-4} tickMargin={12} tick={tickFont()} {...base} />,
    <YAxis key="yr" yAxisId="right" orientation="right" domain={yDomain} ticks={yTicks} width={THIN} tickSize={-4} tick={false} {...base} />,
  ];
}
function hiddenAxes(xDomain: number[], yDomain: number[]) {
  return [
    <XAxis key="x" hide dataKey="lon" type="number" domain={xDomain} allowDataOverflow />,
    <YAxis key="y" hide dataKey="lat" type="number" domain={yDomain} allowDataOverflow />,
  ];
}

function ColorBarV({ id, b, domain, stops }: { id: string; b: Box; domain: number[]; stops: [number, string][] }) {
  const ticks = [0, 10, 20, 30, 40, 50, 60];
  return (
    <ComposedChart {...frame(b, 40)} data={ticks.map((v) => ({ v, u: 0.5 }))}>
      <defs>
        <linearGradient id={id} x1="0" y1="1" x2="0" y2="0">
          {stops.map(([v, c], i) => (
            <stop key={i} offset={(v - domain[0]) / (domain[1] - domain[0])} stopColor={c} />
          ))}
        </linearGradient>
      </defs>
      <XAxis dataKey="u" type="number" domain={[0, 1]} allowDataOverflow hide />
      <ReferenceArea x1={0} x2={1} y1={domain[0]} y2={domain[1]} fill={`url(#${id})`} fillOpacity={1} stroke="#777" strokeWidth={1.4} />
      <YAxis
        orientation="right"
        type="number"
        dataKey="v"
        domain={domain}
        allowDataOverflow
        ticks={ticks}
        interval={0}
        width={THIN}
        tickSize={-3}
        tickMargin={10}
        axisLine={axisLine}
        tickLine={{ stroke: "#777" }}
        tick={tickFont()}
      />
    </ComposedChart>
  );
}

function ColorBarH({ id, b, domain, ticks, stops, margin = 18 }: { id: string; b: Box; domain: number[]; ticks: number[]; stops: [number, string][]; margin?: number }) {
  return (
    <ComposedChart {...frame(b, 40)} data={ticks.map((v) => ({ v, u: 0.5 }))}>
      <defs>
        <linearGradient id={id} x1="0" y1="0" x2="1" y2="0">
          {stops.map(([v, c], i) => (
            <stop key={i} offset={(v - domain[0]) / (domain[1] - domain[0])} stopColor={c} />
          ))}
        </linearGradient>
      </defs>
      <YAxis dataKey="u" type="number" domain={[0, 1]} allowDataOverflow hide />
      <ReferenceArea x1={domain[0]} x2={domain[1]} y1={0} y2={1} fill={`url(#${id})`} fillOpacity={1} stroke="#777" strokeWidth={1.4} />
      <XAxis
        type="number"
        dataKey="v"
        domain={domain}
        allowDataOverflow
        ticks={ticks}
        interval={0}
        height={THIN}
        tickSize={-4}
        tickMargin={margin}
        axisLine={axisLine}
        tickLine={{ stroke: "#555" }}
        tick={tickFont()}
      />
    </ComposedChart>
  );
}

const boxA = { l: 50.5, t: 73, r: 522.5, b: 394 };
const boxB = { l: 702.7, t: 73.3, r: 1174.3, b: 408.3 };
const boxC = { l: 48, t: 539, r: 521, b: 860 };
const boxD = { l: 705, t: 545, r: 1177, b: 865 };
const boxE1 = { l: 60.5, t: 1047.5, r: 325.5, b: 1226 };
const boxE2 = { l: 370.5, t: 1047.5, r: 632.5, b: 1226 };
const boxF = { l: 800, t: 969.3, r: 1176.7, b: 1226 };
const fullLon = [100, 110, 120, 130, 140, 150, 160, 170, 180];
const fullLat = [10, 20, 30, 40, 50, 60];

function PanelA() {
  return (
    <ScatterChart {...frame(boxA)}>
      {mapAxes([105, 140], [34.05, 54], [105, 110, 115, 120, 125, 130, 135, 140], [35, 40, 45, 50])}
      {mapLayers(1.4)}
      {regionLayer}
      <Scatter data={pts(plainStations)} shape={dotShape(3.3, "#f9a68c")} isAnimationActive={false} />
      <Scatter data={pts(redStations)} shape={dotShape(3.4, "#f0503a")} isAnimationActive={false} />
      <Scatter data={pts(blackCoreStations)} shape={blackCore} isAnimationActive={false} />
      <Scatter data={pts(ringedStations)} shape={dotShape(3, "#e63a30", "#222", 1.1)} isAnimationActive={false} />
      <Scatter data={pts(paleStars)} shape={starShape(10.5, "#fbb49c")} isAnimationActive={false} />
      <Scatter data={pts(midStars)} shape={starShape(10.5, "#f4694c")} isAnimationActive={false} />
      <Scatter data={pts(ringedStars)} shape={starShape(10.5, "#ef4a36", "#222", 0.8)} isAnimationActive={false} />
    </ScatterChart>
  );
}

function PanelB() {
  const lineTail = (color: string) => (p: any) =>
    p.index === years.length - 1 ? (
      <rect key="end" x={p.cx - 4.5} y={p.cy - 4.5} width={9} height={9} fill={color} />
    ) : (
      <g key={p.index} />
    );
  const yBase = { type: "number" as const, width: THIN, tickSize: -4, interval: 0 as const, axisLine: false };
  const xBase = { dataKey: "year", type: "number" as const, domain: [1960, 2019.07], allowDataOverflow: true, ticks: decadeTicks, interval: 0 as const, height: THIN, tickSize: -4, axisLine, tickLine: { stroke: "#777" }, tick: tickFont() };
  return (
    <ComposedChart {...frame(boxB)} data={seriesTable}>
      <XAxis tickMargin={23} {...xBase} />
      <XAxis xAxisId="top" orientation="top" tickMargin={20} {...xBase} />
      <YAxis yAxisId="z" reversed domain={[-50.5, 209.6]} ticks={[-50, 0, 50]} tickMargin={12} tickLine={{ stroke: "#333" }} tick={tickFont(17, "#333")} {...yBase} />
      <YAxis yAxisId="r" domain={[-3.58, 5.6]} ticks={[-1, 0, 1]} tickMargin={12} tickLine={{ stroke: TEAL }} tick={tickFont(17, TEAL)} {...yBase} />
      <YAxis yAxisId="u" orientation="right" domain={[-5.48, 3.78]} ticks={[-1, 0, 1]} tickMargin={14} tickLine={{ stroke: RED }} tick={tickFont(17, RED)} {...yBase} />
      <YAxis yAxisId="d" orientation="right" domain={[-0.2455, 2.063]} ticks={[-0.2, 0, 0.2, 0.4, 0.6]} tickMargin={14} tickLine={{ stroke: "#888" }} tick={tickFont(17, GRAY)} {...yBase} />
      <ReferenceLine yAxisId="z" segment={[{ x: 1960, y: -50 }, { x: 1960, y: 50 }]} stroke="#444" strokeWidth={1.2} />
      <ReferenceLine yAxisId="r" segment={[{ x: 1960, y: 1.86 }, { x: 1960, y: -1.71 }]} stroke={TEAL} strokeWidth={1.2} />
      <ReferenceLine yAxisId="u" segment={[{ x: 2019.07, y: 1.85 }, { x: 2019.07, y: -1.71 }]} stroke={RED} strokeWidth={1.2} />
      <ReferenceLine yAxisId="d" segment={[{ x: 2019.07, y: 0.63 }, { x: 2019.07, y: -0.2455 }]} stroke="#888" strokeWidth={1.2} />
      <Line yAxisId="d" dataKey="d" stroke={GRAY} strokeWidth={1.5} dot={false} isAnimationActive={false} />
      <Line yAxisId="r" dataKey="r" stroke={TEAL} strokeWidth={1.6} dot={lineTail(TEAL)} isAnimationActive={false} />
      <Line yAxisId="u" dataKey="u" stroke={RED} strokeWidth={1.6} dot={lineTail(RED)} isAnimationActive={false} />
      <Line yAxisId="z" dataKey="z" stroke="#222" strokeWidth={1.6} dot={lineTail("#111")} isAnimationActive={false} />
    </ComposedChart>
  );
}

function PanelC() {
  return (
    <>
      <ScatterChart {...frame(boxC)}>
        {mapAxes([100, 180], [10, 60], fullLon, fullLat, 17)}
        {mapLayers(0.9)}
      </ScatterChart>
      <ScatterChart {...frame(boxC)}>
        <XAxis hide dataKey="lon" type="number" domain={[100, 180]} />
        <YAxis hide dataKey="lat" type="number" domain={[10, 60]} />
        {dotRows.map((row) => (
          <Scatter key={row.lat} data={row.lons.map((lon, i) => ({ lon, lat: row.lat, c: rColor(row.r[i]) }))} shape={(p: any) => <circle cx={p.cx} cy={p.cy} r={3.6} fill={p.c} />} isAnimationActive={false} />
        ))}
      </ScatterChart>
      <ScatterChart {...frame(boxC)}>
        {hiddenAxes([100, 180], [10, 60])}
        {contourLayers(cRed, "#f0433a", "r")}
        {contourLayers(cBlue, BLUE_LINE, "b")}
        {regionLayer}
      </ScatterChart>
    </>
  );
}

function PanelD() {
  return (
    <ScatterChart {...frame(boxD)}>
      {mapAxes([100, 180], [10, 60], fullLon, fullLat, 17)}
      {mapLayers(0.9)}
      {contourLayers(dRed, "#f0433a", "r")}
      {contourLayers(dBlue, BLUE_LINE, "b")}
      {regionLayer}
    </ScatterChart>
  );
}

function ScatterPanel({ b, data, xDomain, xTicks, color, line, right, id }: any) {
  const minor = right ? [-0.1, 0.1, 0.3, 0.5, 0.7] : [-30, -10, 10, 30, 50];
  const yMinor = [-1.75, -1.5, -1.25, -0.75, -0.5, -0.25, 0.25, 0.5, 0.75, 1.25, 1.5, 1.75];
  const points = data.map(([x, y]: number[]) => ({ x, y }));
  return (
    <ScatterChart {...frame(b)}>
      <XAxis dataKey="x" type="number" domain={xDomain} ticks={xTicks} interval={0} height={THIN} tickSize={-5} tickMargin={17} axisLine={axisLine} tickLine={{ stroke: "#777" }} tick={tickFont()} />
      <XAxis xAxisId={`${id}m`} type="number" domain={xDomain} ticks={minor} interval={0} height={THIN} tickSize={-3} axisLine={false} tickLine={{ stroke: "#777" }} tick={false} />
      <YAxis dataKey="y" type="number" orientation={right ? "right" : "left"} domain={[-2, 2.2]} ticks={[-2, -1, 0, 1, 2]} interval={0} width={THIN} tickSize={-5} tickMargin={12} axisLine={axisLine} tickLine={{ stroke: "#777" }} tick={tickFont()} />
      <YAxis yAxisId={`${id}n`} type="number" orientation={right ? "right" : "left"} domain={[-2, 2.2]} ticks={yMinor} interval={0} width={THIN} tickSize={-3} axisLine={false} tickLine={{ stroke: "#777" }} tick={false} />
      <ReferenceLine segment={line} stroke={right ? RED : "#333"} strokeWidth={1.2} />
      <Scatter data={points} shape={dotShape(3.8, color)} isAnimationActive={false} />
    </ScatterChart>
  );
}

const logTick = (p: any) => {
  const power = Math.round(Math.log10(p.payload.value));
  return (
    <text x={p.x - 2} y={p.y + 42} textAnchor="middle" fontFamily={serif} fontSize={25} fill="#666">
      10
      <tspan dx={5} dy={-11} fontSize={21}>
        {power}
      </tspan>
    </text>
  );
};

function PanelF() {
  const asPts = (a: number[][]) => a.map(([x, y]) => ({ x, y }));
  const ruralMarks = returnPeriods.map((x, i) => ({ x, y: ruralSorted[i] }));
  const urbanMarks = returnPeriods.map((x, i) => ({ x, y: urbanSorted[i] }));
  const minor = [2, 3, 4, 5, 6, 7, 8, 9, 20, 30, 40, 50, 60, 70, 80, 90, 200, 300];
  const logX = { type: "number" as const, scale: "log" as const, domain: [1, 300], allowDataOverflow: true, interval: 0 as const, height: THIN };
  const yBase = { type: "number" as const, domain: [-2, 2], allowDataOverflow: true, interval: 0 as const, width: THIN, ticks: [-2, -1, 0, 1, 2] };
  const dash = (a: number[][], color: string, key: string) => (
    <Scatter key={key} data={asPts(a)} shape={none} line={{ stroke: color, strokeWidth: 1.3, strokeDasharray: "9 3 2 3" }} lineJointType="monotoneX" isAnimationActive={false} />
  );
  return (
    <ScatterChart {...frame(boxF)}>
      <XAxis dataKey="x" ticks={[1, 10, 100]} tickSize={-5} tickMargin={0} axisLine={axisLine} tickLine={{ stroke: "#555" }} tick={logTick} {...logX} />
      <XAxis xAxisId="m" ticks={minor} tickSize={-3} axisLine={false} tickLine={{ stroke: "#555" }} tick={false} {...logX} />
      <XAxis xAxisId="top" orientation="top" ticks={[1, 10, 100]} tickSize={-5} axisLine={axisLine} tickLine={{ stroke: "#555" }} tick={false} {...logX} />
      <XAxis xAxisId="topm" orientation="top" ticks={minor} tickSize={-3} axisLine={false} tickLine={{ stroke: "#555" }} tick={false} {...logX} />
      <YAxis dataKey="y" tickSize={-5} tickMargin={14} axisLine={axisLine} tickLine={{ stroke: "#555" }} tick={tickFont(25)} {...yBase} />
      <YAxis yAxisId="right" orientation="right" tickSize={-5} axisLine={axisLine} tickLine={{ stroke: "#555" }} tick={false} {...yBase} />
      <ReferenceLine y={1.725} stroke={RED} strokeWidth={1.2} />
      <ReferenceLine y={1.64} stroke={TEAL} strokeWidth={1.2} />
      {dash(urbanUpper, RED, "uu")}
      {dash(urbanLower, RED, "ul")}
      {dash(ruralUpper, TEAL, "ru")}
      {dash(ruralLower, TEAL, "rl")}
      <Scatter data={urbanMarks} shape={plusShape(RED)} isAnimationActive={false} />
      <Scatter data={asPts(urbanFit)} shape={none} line={{ stroke: RED, strokeWidth: 4 }} lineJointType="monotoneX" isAnimationActive={false} />
      <Scatter data={ruralMarks} shape={plusShape(TEAL)} isAnimationActive={false} />
      <Scatter data={asPts(ruralFit)} shape={none} line={{ stroke: TEAL, strokeWidth: 5 }} lineJointType="monotoneX" isAnimationActive={false} />
    </ScatterChart>
  );
}

export default function App() {
  const title = (x: number, y: number, s: string) => (
    <Txt x={x} y={y} size={31.4} color="#3c3c3c" left>
      {s}
    </Txt>
  );
  return (
    <div style={{ position: "absolute", left: 0, top: 0, width: 1261, height: 1301, background: "#fff", overflow: "hidden", fontFamily: serif }}>
      <style>{`.recharts-text, .recharts-cartesian-axis-tick text { font-family: ${serif}; }`}</style>
      {title(29, 21, "(a) Jul-Aug temperature anomaly in 2018")}
      {title(678, 21, "(b) Ta and Z500 anomaly time series")}
      {title(30, 512, "(c) Jul-Aug Z500 and correlation with Ta")}
      {title(677, 512, "(d) CMIP5 mean Z500 (high correlation)")}
      {title(32, 1002, "(e) Temporal correlation")}
      {title(677, 934, "(f) GEV fit")}

      <PanelA />
      <ColorBarV id="tempA" b={{ l: 534.3, t: 73, r: 550.3, b: 394 }} domain={[-0.8, 63.5]} stops={tempStops} />
      <ColorBarH id="anom" b={{ l: 50.5, t: 425, r: 522.5, b: 440 }} domain={[0, 3]} ticks={[0, 0.5, 1, 1.5, 2, 2.5, 3]} stops={anomalyStops} />
      <Txt x={285} y={479}>
        Jul-Aug Temperature Anomaly (<span style={{ marginLeft: 12 }} /><Sup>o</Sup>C)
      </Txt>

      <PanelB />
      <Txt x={655} y={137} size={19.5} color="#222" rot={-90}>Z500 (metres)</Txt>
      <Txt x={655} y={277} size={19} color={TEAL} rot={-90}>T<Sub>a</Sub> Anomaly (<Sup>o</Sup>C)</Txt>
      <Txt x={1237} y={200} size={19} color={RED} rot={-90}>T<Sub>a</Sub> Anomaly (<Sup>o</Sup>C)</Txt>
      <Txt x={1237} y={350} size={19} color={GRAY} rot={-90}>T<Sub>a</Sub> Anomaly (<Sup>o</Sup>C)</Txt>
      <Swatch x={718} y={91} w={51} color="#222" />
      <Txt x={773} y={93} size={17.6} color="#333" left>Jul-Aug Z500 Anomaly</Txt>
      <Txt x={702} y={384} size={17.6} color="#333" left>Jul-Aug T<Sub>a</Sub>:</Txt>
      <Swatch x={795} y={383} w={52} color={RED} />
      <Txt x={851} y={385} size={17.6} color="#333" left>Urban</Txt>
      <Swatch x={905} y={383} w={52} color={TEAL} />
      <Txt x={961} y={385} size={17.6} color="#333" left>Rural</Txt>
      <Swatch x={1009} y={383} w={52} color={GRAY} />
      <Txt x={1065} y={385} size={17.6} color="#333" left>Urban - Rural</Txt>

      <PanelC />
      <ColorBarV id="tempC" b={{ l: 533, t: 538, r: 549, b: 860 }} domain={[-1, 63.4]} stops={tempStops} />
      <ColorBarH id="rbar" b={{ l: 49, t: 892, r: 521, b: 905 }} domain={[-0.8, 0.8]} ticks={[-0.8, -0.6, -0.4, -0.2, 0, 0.2, 0.4, 0.6, 0.8]} stops={rStops} />
      <Txt x={279} y={950}>
        r of Jul-Aug<span style={{ marginLeft: 8 }} />T<Sub>a</Sub><span style={{ marginLeft: 4 }} />with Z500 anomalies
      </Txt>
      <Txt x={90} y={629} size={20} color="#222" rot={-50}>30</Txt>
      <Txt x={133} y={627} size={20} color="#222" rot={-65}>45</Txt>
      <Txt x={143} y={645} size={20} color="#222" rot={-65}>52</Txt>
      <Txt x={370} y={632} size={18} color="#222" rot={-18} bg>-15</Txt>
      <Txt x={423} y={613} size={18} color="#222" rot={35} bg>0</Txt>
      <Txt x={299} y={738} size={18} color="#222" rot={10} bg>0</Txt>
      <Txt x={265} y={785} size={18} color="#222" rot={-82}>-15</Txt>

      <PanelD />
      <Txt x={865} y={660} size={20} color="#222" rot={-15}>20</Txt>
      <Txt x={848} y={675} size={20} color="#222" rot={-70}>18</Txt>
      <Txt x={815} y={672} size={20} color="#222" rot={-70}>14</Txt>
      <Txt x={790} y={691} size={20} color="#222" rot={5}>6</Txt>
      <Txt x={1128} y={620} size={18} color="#222" bg>6</Txt>
      <Txt x={1034} y={799} size={18} color="#222" bg>-4</Txt>

      <ScatterPanel id="e1" b={boxE1} data={z500Scatter} xDomain={[-40, 60]} xTicks={[-40, -20, 0, 20, 40, 60]} color="#1c1c1c" line={[{ x: -40, y: -0.72 }, { x: 60, y: 1.8 }]} />
      <ScatterPanel id="e2" right b={boxE2} data={globalScatter} xDomain={[-0.2, 0.8]} xTicks={[-0.2, 0, 0.2, 0.4, 0.6, 0.8]} color={RED} line={[{ x: -0.2, y: -0.34 }, { x: 0.8, y: 0.85 }]} />
      <Txt x={75} y={1055} size={19} color="#333" left>0.71 (0.00)</Txt>
      <Txt x={75} y={1076} size={19} color="#333" left>[0.58 (0.00)]</Txt>
      <Txt x={385} y={1055} size={19} color={RED} left>0.56 (0.00)</Txt>
      <Txt x={385} y={1076} size={19} color={RED} left>[0.30 (0.03)]</Txt>
      <Txt x={17} y={1135} size={18.5} rot={-90}>Jul-Aug itT<Sub>a</Sub> anomaly (<Sup>o</Sup>C)</Txt>
      <Txt x={180} y={1267}>Regional Mean Z500 anomaly (gpm)</Txt>
      <Txt x={500} y={1273} size={18.5}>
        Jul-Aug Global<span style={{ marginLeft: 8 }} />T<Sub>a</Sub> Anomaly (<Sup>o</Sup>C)
      </Txt>
      <Txt x={677} y={1135} size={19} rot={-90}>Jul-Aug T<Sub>a</Sub> Anomaly (<Sup>o</Sup>C)</Txt>

      <PanelF />
      <Txt x={742} y={1097} size={27} rot={-90}>Jul-Aug T<Sub>a</Sub> Anomaly (<Sup>o</Sup>C)</Txt>
      <Txt x={976} y={1287} size={26}>Return Period (year)</Txt>
      <div style={{ position: "absolute", left: 877.7, top: 1095, width: 289, height: 116, background: "#fff", border: "1.4px solid #555", boxSizing: "border-box" }} />
      <Swatch x={886} y={1112} w={84} color={RED} h={5} />
      <Swatch x={886} y={1140} w={84} color={TEAL} h={5} />
      <Swatch x={886} y={1167} w={84} color={RED} />
      <Swatch x={886} y={1195} w={84} color={TEAL} />
      <Txt x={976} y={1114} size={19.5} color="#333" left>GPD &gt;70% fit: Urban</Txt>
      <Txt x={976} y={1141} size={19.5} color="#333" left>GPD &gt;70% fit: Rural</Txt>
      <Txt x={976} y={1168} size={19.5} color="#333" left>Urban at 2018</Txt>
      <Txt x={976} y={1196} size={19.5} color="#333" left>Rural at 2018</Txt>
    </div>
  );
}
